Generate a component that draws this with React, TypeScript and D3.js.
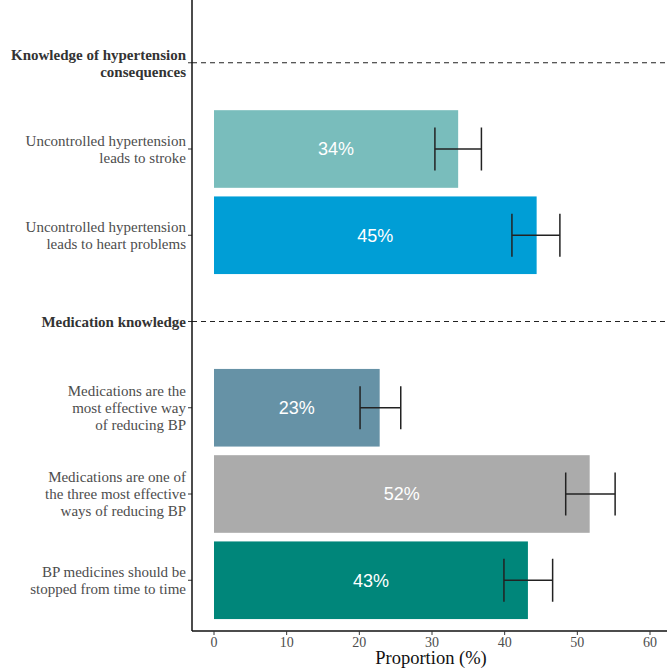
import React from "react";
import * as d3 from "d3";

const categories = [
  "Knowledge of hypertension\nconsequences",
  "Uncontrolled hypertension\nleads to stroke",
  "Uncontrolled hypertension\nleads to heart problems",
  "Medication knowledge",
  "Medications are the\nmost effective way\nof reducing BP",
  "Medications are one of\nthe three most effective\nways of reducing BP",
  "BP medicines should be\nstopped from time to time",
];
const isHeader = [true, false, false, true, false, false, false];
const values: (number | null)[] = [null, 33.6, 44.4, null, 22.8, 51.7, 43.2];
const lower: (number | null)[] = [null, 30.4, 41.0, null, 20.1, 48.4, 39.9];
const upper: (number | null)[] = [null, 36.8, 47.6, null, 25.7, 55.2, 46.6];
const labels = ["", "34%", "45%", "", "23%", "52%", "43%"];
const colors = ["", "#79bdbc", "#009ed6", "", "#6692a6", "#ababab", "#00867a"];
const xTicks = [0, 10, 20, 30, 40, 50, 60];

export default function App() {
  const W = 667, H = 669;
  const axisX = 192;
  const axisY = 631;
  const x = d3.scaleLinear().domain([0, 60]).range([214, 650]);
  const y = d3.scaleBand<string>().domain(categories).range([11, 632]).paddingInner(0.1).paddingOuter(0.15);
  const serif = "'Liberation Serif', 'Times New Roman', serif";
  const sans = "'Liberation Sans', Arial, sans-serif";
  const capH = 43;
  return (
    <svg width={W} height={H} style={{ position: "absolute", left: 0, top: 0, background: "#fff" }}>
      {categories.map((c, i) => {
        const cy = (y(c) as number) + y.bandwidth() / 2;
        const lines = c.split("\n");
        const lh = 17;
        return (
          <g key={c}>
            {isHeader[i] && (
              <line x1={axisX} x2={W} y1={cy} y2={cy} stroke="#222" strokeWidth={1.2} strokeDasharray="5,4" />
            )}
            {values[i] !== null && (
              <g>
                <rect x={x(0)} y={y(c)} width={x(values[i] as number) - x(0)} height={y.bandwidth()} fill={colors[i]} />
                <text x={x((values[i] as number) / 2)} y={cy} dy="0.36em" textAnchor="middle" fill="#fff" fontFamily={sans} fontSize={18}>
                  {labels[i]}
                </text>
                <line x1={x(lower[i] as number)} x2={x(upper[i] as number)} y1={cy} y2={cy} stroke="#222" strokeWidth={1.5} />
                <line x1={x(lower[i] as number)} x2={x(lower[i] as number)} y1={cy - capH / 2} y2={cy + capH / 2} stroke="#222" strokeWidth={1.5} />
                <line x1={x(upper[i] as number)} x2={x(upper[i] as number)} y1={cy - capH / 2} y2={cy + capH / 2} stroke="#222" strokeWidth={1.5} />
              </g>
            )}
            <line x1={axisX - 4} x2={axisX} y1={cy} y2={cy} stroke="#333" strokeWidth={1} />
            {lines.map((l, k) => (
              <text
                key={k}
                x={186}
                y={cy + (k - (lines.length - 1) / 2) * lh}
                dy="0.35em"
                textAnchor="end"
                fontFamily={serif}
                fontSize={15}
                fontWeight={isHeader[i] ? "bold" : "normal"}
                fill={isHeader[i] ? "#333" : "#4d4d4d"}
              >
                {l}
              </text>
            ))}
          </g>
        );
      })}
      <line x1={axisX} x2={axisX} y1={0} y2={axisY} stroke="#111" strokeWidth={1.5} />
      <line x1={axisX} x2={W} y1={axisY} y2={axisY} stroke="#111" strokeWidth={1.5} />
      {xTicks.map((t) => (
        <g key={t}>
          <line x1={x(t)} x2={x(t)} y1={axisY} y2={axisY + 4} stroke="#333" strokeWidth={1} />
          <text x={x(t)} y={axisY + 11} dy="0.35em" textAnchor="middle" fontFamily={serif} fontSize={14} fill="#4d4d4d">
            {t}
          </text>
        </g>
      ))}
      <text x={431} y={658} dy="0.35em" textAnchor="middle" fontFamily={serif} fontSize={18.5} fill="#111">
        Proportion (%)
      </text>
    </svg>
  );
}
